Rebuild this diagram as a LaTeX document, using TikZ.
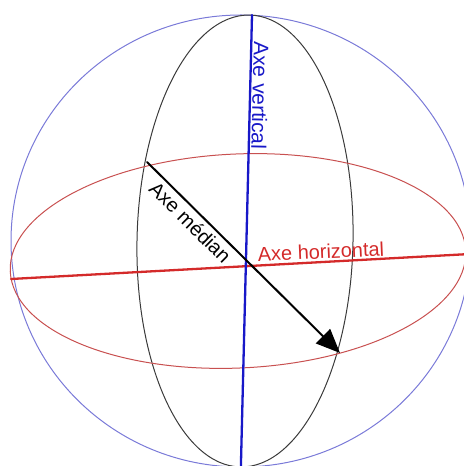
\documentclass[tikz,border=0pt]{standalone}
\usepackage{fontspec}
\setmainfont{Liberation Sans}
\usetikzlibrary{arrows.meta}
\definecolor{sphereblue}{HTML}{7A7AD8}
\definecolor{meridian}{HTML}{3A3A3A}
\definecolor{equator}{HTML}{C85050}
\definecolor{blueaxis}{HTML}{1818C8}
\definecolor{redaxis}{HTML}{D42A2A}
\tikzset{
  every picture/.style={line join=round, line cap=round, >=Stealth},
  thin line/.style={line width=1bp},
  axis line/.style={line width=2.3bp},
  axe label/.style={font=\fontsize{20}{24}\selectfont, inner sep=0pt},
}

\begin{document}
\begin{tikzpicture}[x=1bp,y=1bp]
\useasboundingbox (0,0) rectangle (464,466);
\clip (0,0) rectangle (464,466);
% sphere, meridian and equator
\draw[thin line, sphereblue] (241,225) ellipse [x radius=230, y radius=226];
\draw[thin line, meridian, rotate around={-1.2:(245,225)}] (245,225) ellipse [x radius=108, y radius=226];
\draw[thin line, equator, rotate around={2.6:(238,205)}] (238,205) ellipse [x radius=228, y radius=107];
% ends of the axes
\coordinate (vtop) at (252,451);
\coordinate (vbot) at (240.8,-4);
\coordinate (hleft) at (11,187);
\coordinate (hright) at (470,212);
\coordinate (mstart) at (147,304);
\coordinate (mtip) at (340,113);
% axes
\draw[axis line, redaxis] (hleft) -- (hright);
\draw[axis line, blueaxis] (vtop) -- (vbot);
\draw[line width=2bp, -{Triangle[length=24bp,width=20bp]}] (mstart) --
  node[axe label, pos=0.27, sloped, below=4bp] (lmed) {Axe médian} (mtip);
% labels
\node[axe label, font=\fontsize{21}{25}\selectfont, blueaxis, rotate=-91.4, anchor=base west] (lvert) at (254,425) {Axe vertical};
\node[axe label, redaxis, rotate=2.5, anchor=base west] (lhor) at (258,204.5) {Axe horizontal};
\end{tikzpicture}
\end{document}
